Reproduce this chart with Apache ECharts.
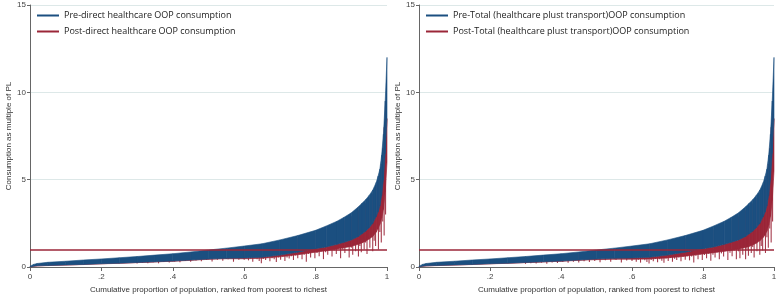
<!DOCTYPE html>
<html>
<head>
<meta charset="utf-8">
<script src="https://cdn.jsdelivr.net/npm/echarts@6/dist/echarts.min.js"></script>
<style>
  html, body { margin: 0; padding: 0; background: #fff; }
  #chart { width: 778px; height: 298px; }
</style>
</head>
<body>
<div id="chart"></div>
<script>
// legend names
const namesLeft = ["Pre-direct healthcare OOP consumption", "Post-direct healthcare OOP consumption"];
const namesRight = ["Pre-Total (healthcare plust transport)OOP consumption", "Post-Total (healthcare plust transport)OOP consumption"];

const xTickLabels = ["0", ".2", ".4", ".6", ".8", "1"];
const povertyLine = 1;

// pre-payment consumption band (same households in both panels)
const bandX = [0, 0.01, 0.02, 0.05, 0.1, 0.15, 0.2, 0.25, 0.3, 0.35, 0.4, 0.45, 0.5, 0.55, 0.6, 0.65, 0.7, 0.75, 0.8,
  0.83, 0.86, 0.88, 0.9, 0.92, 0.93, 0.94, 0.95, 0.96, 0.97, 0.975, 0.98, 0.985, 0.99, 0.995, 1];
const preTop = [0.05, 0.15, 0.2, 0.27, 0.33, 0.4, 0.46, 0.53, 0.6, 0.68, 0.76, 0.86, 0.97, 1.08, 1.2, 1.33, 1.55, 1.8, 2.1,
  2.35, 2.62, 2.85, 3.1, 3.45, 3.65, 3.85, 4.1, 4.4, 4.85, 5.2, 5.6, 6.4, 7.6, 9.5, 12];
const bandLow = [0, 0.05, 0.07, 0.09, 0.12, 0.15, 0.19, 0.22, 0.26, 0.3, 0.34, 0.4, 0.46, 0.5, 0.52, 0.56, 0.68, 0.85, 1.05,
  1.15, 1.3, 1.42, 1.55, 1.75, 1.9, 2.05, 2.25, 2.5, 2.9, 3.15, 3.5, 4.1, 5.0, 6.5, 8.5];
// solid red floor under the band
const redFloorLeft = [0, 0.04, 0.06, 0.08, 0.11, 0.14, 0.18, 0.21, 0.25, 0.29, 0.33, 0.38, 0.44, 0.47, 0.47, 0.5, 0.58, 0.7, 0.85,
  0.93, 1.03, 1.1, 1.18, 1.3, 1.38, 1.48, 1.6, 1.75, 2.0, 2.2, 2.45, 2.8, 3.3, 4.3, 6];
const redFloorRight = [0, 0.04, 0.06, 0.08, 0.11, 0.14, 0.18, 0.21, 0.25, 0.29, 0.33, 0.38, 0.42, 0.44, 0.44, 0.46, 0.52, 0.62, 0.75,
  0.82, 0.9, 0.96, 1.02, 1.12, 1.18, 1.26, 1.36, 1.5, 1.7, 1.85, 2.05, 2.4, 2.9, 3.8, 5.5];

// households drawn as drips: pre value and post value
const spikeX = [0.3, 0.315, 0.33, 0.345, 0.36, 0.375, 0.39, 0.405, 0.42, 0.435, 0.45, 0.465, 0.48, 0.495, 0.51, 0.525, 0.54, 0.555, 0.57, 0.585,
  0.6, 0.606, 0.612, 0.618, 0.624, 0.63, 0.636, 0.642, 0.648, 0.654, 0.66, 0.666, 0.672, 0.678, 0.684, 0.69, 0.696, 0.702, 0.708, 0.714,
  0.72, 0.726, 0.732, 0.738, 0.744, 0.75, 0.756, 0.762, 0.768, 0.774, 0.78, 0.786, 0.792, 0.798, 0.804, 0.81, 0.816, 0.822, 0.828, 0.834,
  0.84, 0.846, 0.852, 0.858, 0.864, 0.87, 0.876, 0.882, 0.888, 0.894,
  0.9, 0.904, 0.908, 0.912, 0.916, 0.92, 0.924, 0.928, 0.932, 0.936, 0.94, 0.944, 0.948, 0.952, 0.956, 0.96, 0.964, 0.968, 0.972, 0.976,
  0.98, 0.984, 0.988, 0.992, 0.996];
const spikeTop = [0.55, 0.57, 0.6, 0.62, 0.65, 0.67, 0.69, 0.72, 0.75, 0.78, 0.81, 0.84, 0.87, 0.91, 0.94, 0.97, 1.0, 1.03, 1.06, 1.1,
  1.05, 1.07, 1.08, 1.1, 1.11, 1.13, 1.14, 1.16, 1.17, 1.19, 1.22, 1.24, 1.27, 1.29, 1.32, 1.35, 1.38, 1.4, 1.43, 1.46,
  1.49, 1.52, 1.55, 1.58, 1.62, 1.65, 1.69, 1.72, 1.76, 1.8, 1.83, 1.87, 1.9, 1.94, 1.98, 2.02, 2.06, 2.1, 2.14, 2.18,
  2.25, 2.3, 2.35, 2.4, 2.45, 2.55, 2.6, 2.68, 2.75, 2.85,
  2.9, 2.95, 3.0, 3.1, 3.15, 3.25, 3.3, 3.4, 3.5, 3.55, 3.65, 3.75, 3.85, 3.95, 4.05, 4.2, 4.35, 4.55, 4.75, 5.0,
  5.3, 5.9, 6.8, 8.0, 9.5];
const spikeLowLeft = [0.2, 0.25, 0.22, 0.27, 0.21, 0.29, 0.26, 0.31, 0.27, 0.34, 0.3, 0.37, 0.33, 0.4, 0.31, 0.42, 0.36, 0.44, 0.3, 0.42,
  0.42, 0.5, 0.38, 0.48, 0.3, 0.5, 0.45, 0.35, 0.22, 0.47, 0.4, 0.52, 0.33, 0.5, 0.44, 0.28, 0.55, 0.42, 0.6, 0.35,
  0.55, 0.48, 0.62, 0.4, 0.66, 0.5, 0.72, 0.45, 0.7, 0.3, 0.75, 0.55, 0.85, 0.5, 0.8, 0.62, 0.9, 0.45, 0.85, 0.7,
  1.0, 0.6, 0.95, 0.75, 1.05, 0.5, 1.0, 0.8, 1.15, 0.55,
  1.1, 0.7, 1.3, 0.9, 1.45, 0.6, 1.2, 0.85, 1.6, 1.0, 1.4, 0.75, 1.7, 1.1, 1.9, 0.9, 1.5, 1.2, 2.2, 1.0,
  2.0, 1.4, 2.6, 1.8, 3.0];
const spikeLowRight = [0.18, 0.22, 0.2, 0.25, 0.18, 0.26, 0.23, 0.28, 0.24, 0.3, 0.26, 0.33, 0.28, 0.35, 0.27, 0.38, 0.3, 0.4, 0.26, 0.37,
  0.35, 0.44, 0.3, 0.42, 0.25, 0.45, 0.38, 0.28, 0.2, 0.4, 0.33, 0.46, 0.27, 0.44, 0.36, 0.24, 0.48, 0.35, 0.52, 0.3,
  0.47, 0.4, 0.55, 0.33, 0.58, 0.42, 0.62, 0.38, 0.6, 0.26, 0.64, 0.45, 0.72, 0.4, 0.68, 0.5, 0.76, 0.36, 0.7, 0.55,
  0.85, 0.45, 0.78, 0.6, 0.9, 0.4, 0.82, 0.62, 0.95, 0.45,
  0.9, 0.5, 1.1, 0.7, 1.2, 0.45, 1.0, 0.65, 1.3, 0.8, 1.15, 0.55, 1.4, 0.9, 1.6, 0.7, 1.2, 0.95, 1.8, 0.8,
  1.7, 1.1, 2.2, 1.4, 2.6];

const BLUE = "#1b4f80";
const RED = "#9b2638";
const FONT = "'Liberation Sans Narrow', 'Liberation Sans', Arial, sans-serif";

// outerBoundsMode off so the grid keeps the given size
const grids = [
  { left: 30, top: 5, width: 357, bottom: 31, outerBoundsMode: "none" },
  { left: 419, top: 5, width: 355, bottom: 31, outerBoundsMode: "none" },
];

const makeAxes = (i) => ({
  x: {
    type: "value", gridIndex: i, min: 0, max: 1, interval: 0.2,
    name: "Cumulative proportion of population, ranked from poorest to richest",
    nameLocation: "middle", nameGap: 19,
    nameTextStyle: { fontFamily: FONT, fontSize: 8, color: "#333" },
    axisLine: { lineStyle: { color: "#666", width: 1 } },
    axisTick: { show: true, length: 4, lineStyle: { color: "#666" } },
    axisLabel: {
      fontFamily: FONT, fontSize: 8, color: "#444", margin: 6,
      formatter: (v) => xTickLabels[Math.round(v / 0.2)],
    },
    splitLine: { show: false },
  },
  y: {
    type: "value", gridIndex: i, min: 0, max: 15, interval: 5,
    name: "Consumption as multiple of PL",
    nameLocation: "middle", nameGap: 17,
    nameTextStyle: { fontFamily: FONT, fontSize: 8, color: "#333" },
    axisLine: { show: true, lineStyle: { color: "#666", width: 1 } },
    axisTick: { show: true, length: 3, lineStyle: { color: "#666" } },
    axisLabel: { fontFamily: FONT, fontSize: 8, color: "#444", margin: 4 },
    splitLine: {
      show: true,
      lineStyle: { color: "#dde8e8", width: 1 },
    },
  },
});

// band between two curves, one polygon per segment
const bandSeries = (i, name, upper, lower, color, z) => ({
  name: name, type: "custom", xAxisIndex: i, yAxisIndex: i, z: z, silent: true,
  color: color,
  data: bandX.slice(0, -1).map((x, k) => [x, bandX[k + 1], upper[k], upper[k + 1], lower[k], lower[k + 1]]),
  encode: { x: [0, 1], y: [2, 3, 4, 5] },
  renderItem: (params, api) => {
    const p1 = api.coord([api.value(0), api.value(2)]);
    const p2 = api.coord([api.value(1), api.value(3)]);
    const p3 = api.coord([api.value(1), api.value(5)]);
    const p4 = api.coord([api.value(0), api.value(4)]);
    return {
      type: "polygon",
      shape: { points: [p1, p2, p3, p4] },
      style: { fill: color, stroke: color, lineWidth: 0.6 },
    };
  },
});

// build series of one panel
const makePanel = (i, names, redFloor, spikeLow) => {
  const spikes = spikeX.map((x, k) => [x, spikeTop[k], spikeLow[k]]);
  return [
    bandSeries(i, names[1], bandLow, redFloor, RED, 2),
    {
      type: "custom", xAxisIndex: i, yAxisIndex: i, data: spikes, z: 2, silent: true,
      encode: { x: 0, y: [1, 2] },
      renderItem: (params, api) => {
        const a = api.coord([api.value(0), api.value(1)]);
        const b = api.coord([api.value(0), api.value(2)]);
        return {
          type: "line",
          shape: { x1: a[0], y1: a[1], x2: b[0], y2: b[1] },
          style: { stroke: RED, lineWidth: 1.1, opacity: 0.9 },
        };
      },
    },
    {
      // poverty line
      type: "line", xAxisIndex: i, yAxisIndex: i, data: [], z: 3, silent: true,
      markLine: {
        symbol: "none", silent: true, label: { show: false },
        lineStyle: { color: RED, width: 1.5, type: "solid" },
        data: [{ yAxis: povertyLine }],
      },
    },
    bandSeries(i, names[0], preTop, bandLow, BLUE, 4),
  ];
};

const legendCommon = {
  orient: "vertical", top: 6, itemGap: 7,
  icon: "rect", itemWidth: 22, itemHeight: 2,
  textStyle: { fontFamily: "'Open Sans', sans-serif", fontSize: 9, color: "#222" },
};

const axes0 = makeAxes(0);
const axes1 = makeAxes(1);

const chart = echarts.init(document.getElementById("chart"), null, { renderer: "canvas" });
chart.setOption({
  backgroundColor: "#fff",
  animation: false,
  grid: grids,
  xAxis: [axes0.x, axes1.x],
  yAxis: [axes0.y, axes1.y],
  legend: [
    Object.assign({}, legendCommon, {
      left: 32,
      data: [
        { name: namesLeft[0], itemStyle: { color: BLUE } },
        { name: namesLeft[1], itemStyle: { color: RED } },
      ],
    }),
    Object.assign({}, legendCommon, {
      left: 421,
      data: [
        { name: namesRight[0], itemStyle: { color: BLUE } },
        { name: namesRight[1], itemStyle: { color: RED } },
      ],
    }),
  ],
  series: [
    ...makePanel(0, namesLeft, redFloorLeft, spikeLowLeft),
    ...makePanel(1, namesRight, redFloorRight, spikeLowRight),
  ],
});
</script>
</body>
</html>
